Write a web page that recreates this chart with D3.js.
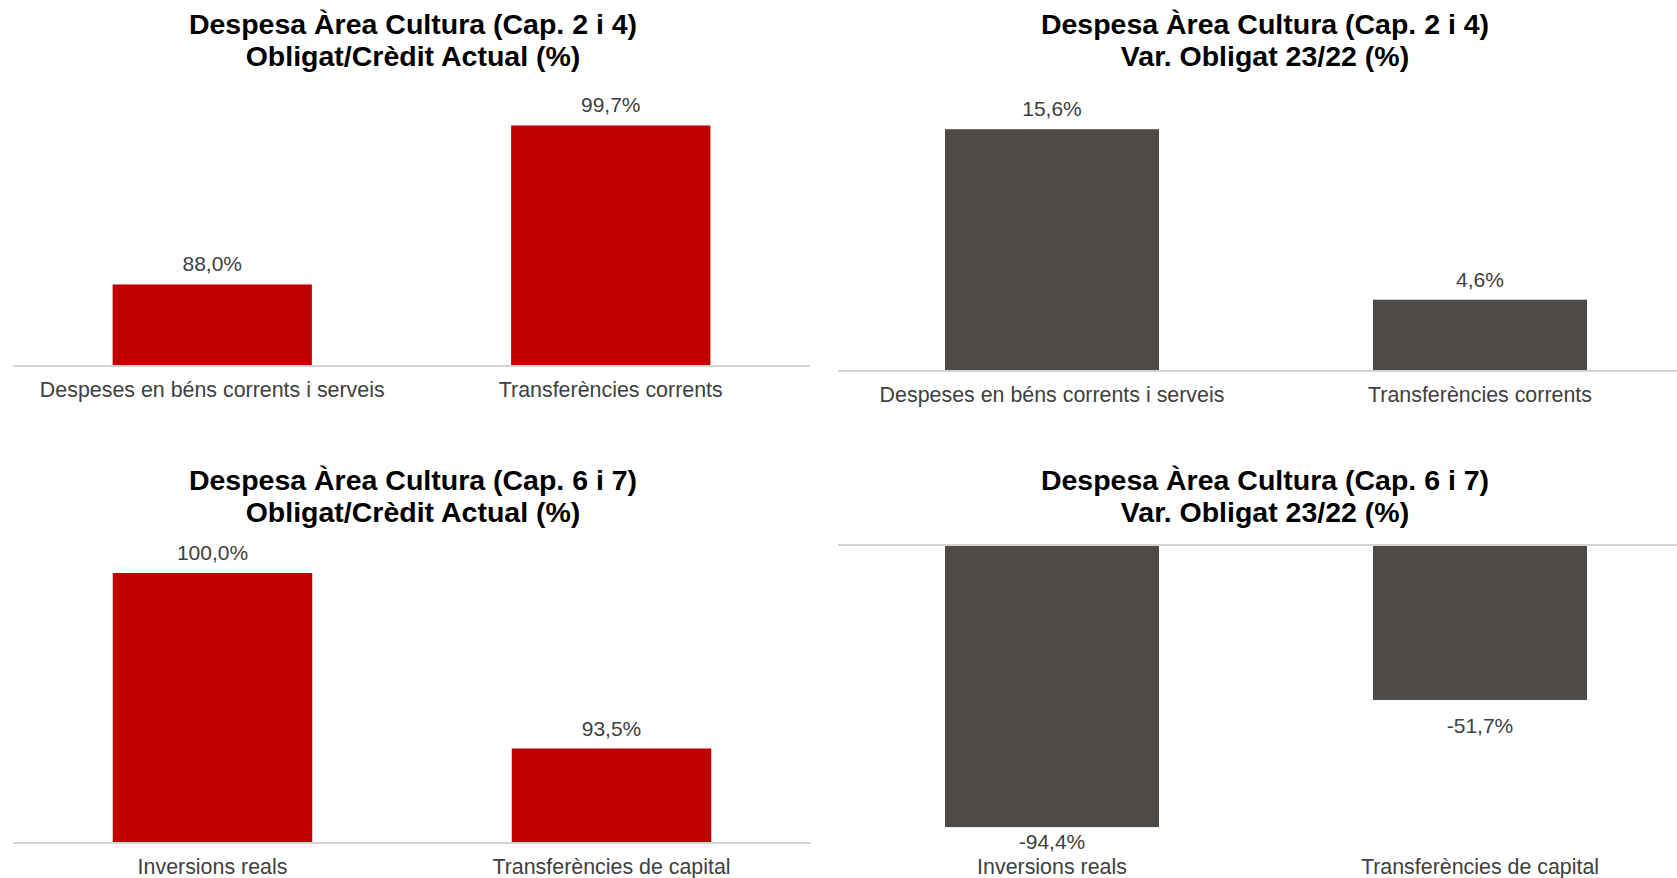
<!DOCTYPE html>
<html>
<head>
<meta charset="utf-8">
<script src="https://cdn.jsdelivr.net/npm/d3@7/dist/d3.min.js"></script>
<style>
  html, body { margin: 0; padding: 0; background: #ffffff; }
  svg { display: block; }
  text { font-family: "Liberation Sans", Arial, sans-serif; }
</style>
</head>
<body>
<svg id="chart" width="1677" height="878"></svg>
<script>
// ---------- DATA ----------
const categoriesCurrent = ["Despeses en béns corrents i serveis", "Transferències corrents"];
const categoriesCapital = ["Inversions reals", "Transferències de capital"];

const execCurrent = [88.0, 99.7];    // Obligat/Crèdit Actual (%) – Cap. 2 i 4
const varCurrent  = [15.6, 4.6];     // Var. Obligat 23/22 (%) – Cap. 2 i 4
const execCapital = [100.0, 93.5];   // Obligat/Crèdit Actual (%) – Cap. 6 i 7
const varCapital  = [-94.4, -51.7];  // Var. Obligat 23/22 (%) – Cap. 6 i 7

const titleCurrent1 = "Despesa Àrea Cultura (Cap. 2 i 4)";
const titleCapital1 = "Despesa Àrea Cultura (Cap. 6 i 7)";
const titleExec2 = "Obligat/Crèdit Actual (%)";
const titleVar2  = "Var. Obligat 23/22 (%)";

// ---------- STYLE / LAYOUT ----------
const RED = "#C00000";
const GREY = "#4D4A48";
const TXT = "#404040";
const AXIS = "#D4D4D4";

const locale = d3.formatLocale({decimal: ",", thousands: ".", grouping: [3], currency: ["", "€"], minus: "-"});
const fmt = v => locale.format(".1f")(v) + "%";

const panels = [
  { cats: categoriesCurrent, values: execCurrent, color: RED,
    titles: [titleCurrent1, titleExec2], titleX: 413, titleY: [34, 66],
    x: [13, 810], yDomain: [82, 100], yRange: [366, 121.4], catAxisY: null, plotBottom: 366 },
  { cats: categoriesCurrent, values: varCurrent, color: GREY,
    titles: [titleCurrent1, titleVar2], titleX: 1265, titleY: [34, 66],
    x: [838, 1694], yDomain: [0, 16], yRange: [371, 123], catAxisY: null, plotBottom: 371, lineEnd: 1677 },
  { cats: categoriesCapital, values: execCapital, color: RED,
    titles: [titleCapital1, titleExec2], titleX: 413, titleY: [490, 522],
    x: [13, 811], yDomain: [90, 100], yRange: [843, 573], catAxisY: null, plotBottom: 843 },
  { cats: categoriesCapital, values: varCapital, color: GREY,
    titles: [titleCapital1, titleVar2], titleX: 1265, titleY: [490, 522],
    x: [838, 1694], yDomain: [-100, 0], yRange: [843.8, 546], catAxisY: 843, plotBottom: 849, lineEnd: 1677 }
];

const svg = d3.select("#chart");

panels.forEach(p => {
  const g = svg.append("g");
  const x = d3.scaleBand().domain(p.cats).range(p.x).paddingInner(0.5).paddingOuter(0.25);
  const y = d3.scaleLinear().domain(p.yDomain).range(p.yRange);
  const base = y(Math.max(p.yDomain[0], Math.min(0, p.yDomain[1])));

  // titles
  g.selectAll("text.title").data(p.titles).join("text")
    .attr("class", "title")
    .attr("x", p.titleX)
    .attr("y", (d, i) => p.titleY[i])
    .attr("text-anchor", "middle")
    .attr("font-size", 28.5)
    .attr("font-weight", "bold")
    .attr("fill", "#000")
    .text(d => d);

  // bars
  const data = p.cats.map((c, i) => ({c, v: p.values[i]}));
  g.selectAll("rect.bar").data(data).join("rect")
    .attr("class", "bar")
    .attr("x", d => x(d.c))
    .attr("width", x.bandwidth())
    .attr("y", d => Math.min(y(d.v), base))
    .attr("height", d => Math.abs(y(d.v) - base))
    .attr("fill", p.color);

  // baseline (value axis zero / min line)
  const lineEnd = p.lineEnd !== undefined ? p.lineEnd : p.x[1];
  g.append("line")
    .attr("x1", p.x[0]).attr("x2", lineEnd)
    .attr("y1", base - (p.catAxisY ? 1 : 0)).attr("y2", base - (p.catAxisY ? 1 : 0))
    .attr("stroke", AXIS).attr("stroke-width", 2);

  // value labels
  g.selectAll("text.val").data(data).join("text")
    .attr("class", "val")
    .attr("x", d => x(d.c) + x.bandwidth() / 2)
    .attr("y", d => d.v >= 0 ? y(d.v) - 13 : Math.min(y(d.v) + 33, p.plotBottom))
    .attr("text-anchor", "middle")
    .attr("font-size", 21)
    .attr("fill", TXT)
    .text(d => fmt(d.v));

  // category axis
  const axisY = p.catAxisY !== null ? p.catAxisY : base;
  const ax = g.append("g")
    .attr("transform", `translate(0,${axisY})`)
    .call(d3.axisBottom(x).tickSize(0).tickPadding(16));
  ax.select(".domain").remove();
  ax.selectAll("text")
    .attr("font-size", 21.4)
    .attr("font-family", "Liberation Sans, Arial, sans-serif")
    .attr("fill", TXT);
});
</script>
</body>
</html>
